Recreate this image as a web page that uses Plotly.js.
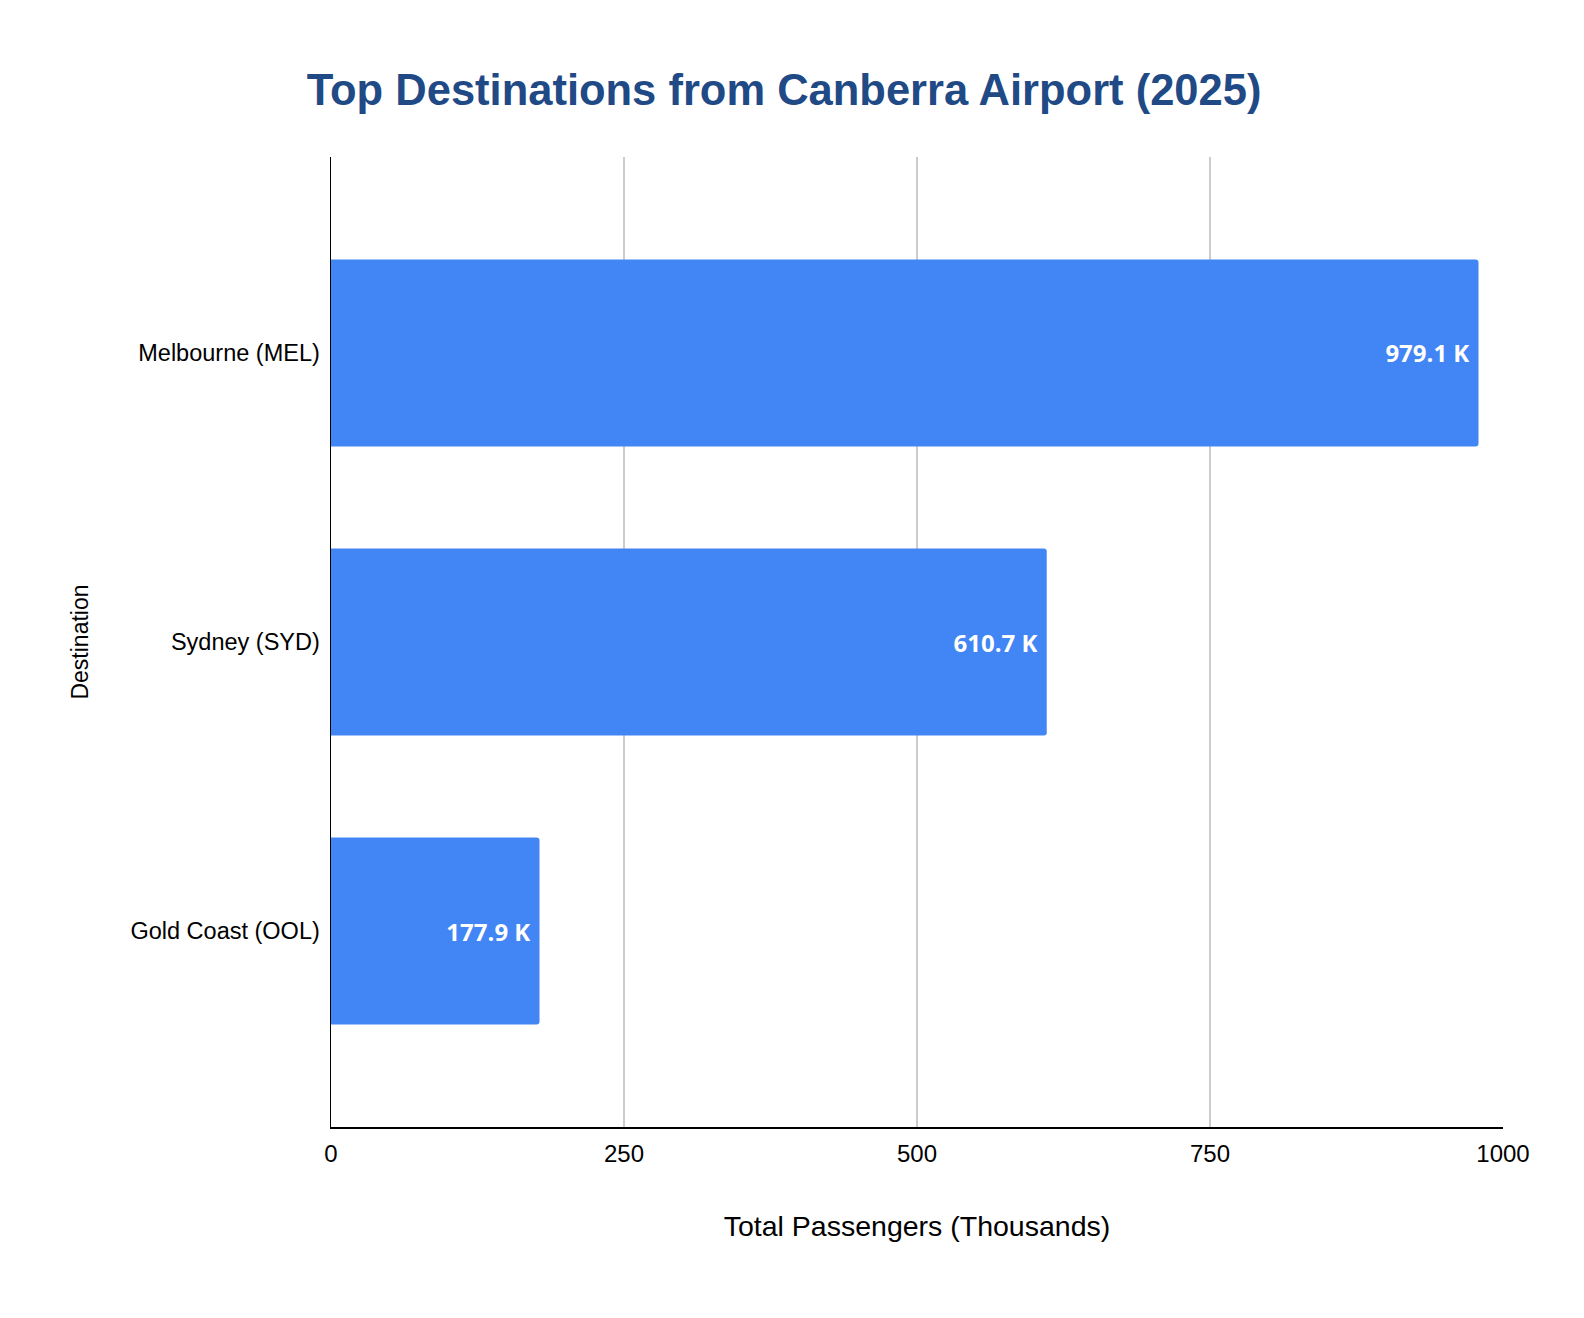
<!DOCTYPE html>
<html>
<head>
<meta charset="utf-8">
<script src="https://cdn.plot.ly/plotly-3.0.1.min.js"></script>
<style>
  body { margin: 0; background: #fff; }
  #chart { width: 1584px; height: 1318px; }
</style>
</head>
<body>
<div id="chart"></div>
<script>
var destinations = ['Melbourne (MEL)', 'Sydney (SYD)', 'Gold Coast (OOL)'];
var passengers = [979.1, 610.7, 177.9];
var labels = ['979.1 K', '610.7 K', '177.9 K'];
var xTicks = [0, 250, 500, 750, 1000];

var trace = {
  type: 'bar',
  orientation: 'h',
  y: destinations,
  x: passengers,
  // trailing no-break space keeps the label off the bar end a little
  text: labels.map(function (s) { return s + '\u00a0'; }),
  textposition: 'inside',
  insidetextanchor: 'end',
  textfont: { family: 'Open Sans', size: 24, color: '#ffffff', weight: 'bold' },
  marker: { color: '#4285f4', cornerradius: 3 },
  width: 0.647,
  hoverinfo: 'none'
};

var layout = {
  width: 1584,
  height: 1318,
  margin: { l: 331, r: 81, t: 157, b: 191 },
  paper_bgcolor: '#ffffff',
  plot_bgcolor: '#ffffff',
  showlegend: false,
  title: {
    text: '<b>Top Destinations from Canberra Airport (2025)</b>',
    x: 0.495,
    xref: 'container',
    y: 0.932,
    yref: 'container',
    yanchor: 'middle',
    font: { family: 'Liberation Sans, Arial', size: 43.5, color: '#1f4a86' }
  },
  xaxis: {
    range: [0, 1000],
    tickvals: xTicks,
    ticktext: xTicks.map(String),
    showgrid: true,
    gridcolor: '#cccccc',
    gridwidth: 2,
    zeroline: false,
    showline: true,
    linecolor: '#000000',
    linewidth: 2,
    ticks: '',
    ticklabelstandoff: 4,
    tickfont: { family: 'Liberation Sans, Arial', size: 24, color: '#000000' },
    title: {
      text: 'Total Passengers (Thousands)',
      standoff: 50,
      font: { family: 'Liberation Sans, Arial', size: 28.5, color: '#000000' }
    },
    fixedrange: true
  },
  yaxis: {
    autorange: false,
    range: [2.678, -0.678],
    showgrid: false,
    zeroline: false,
    showline: true,
    linecolor: '#000000',
    linewidth: 1.5,
    ticks: '',
    ticklabelstandoff: 5,
    tickfont: { family: 'Liberation Sans, Arial', size: 23.5, color: '#000000' },
    title: {
      text: 'Destination',
      standoff: 35,
      font: { family: 'Liberation Sans, Arial', size: 23, color: '#000000' }
    },
    fixedrange: true
  }
};

var config = { responsive: false, displayModeBar: false, staticPlot: true };
Plotly.newPlot('chart', [trace], layout, config);
</script>
</body>
</html>
